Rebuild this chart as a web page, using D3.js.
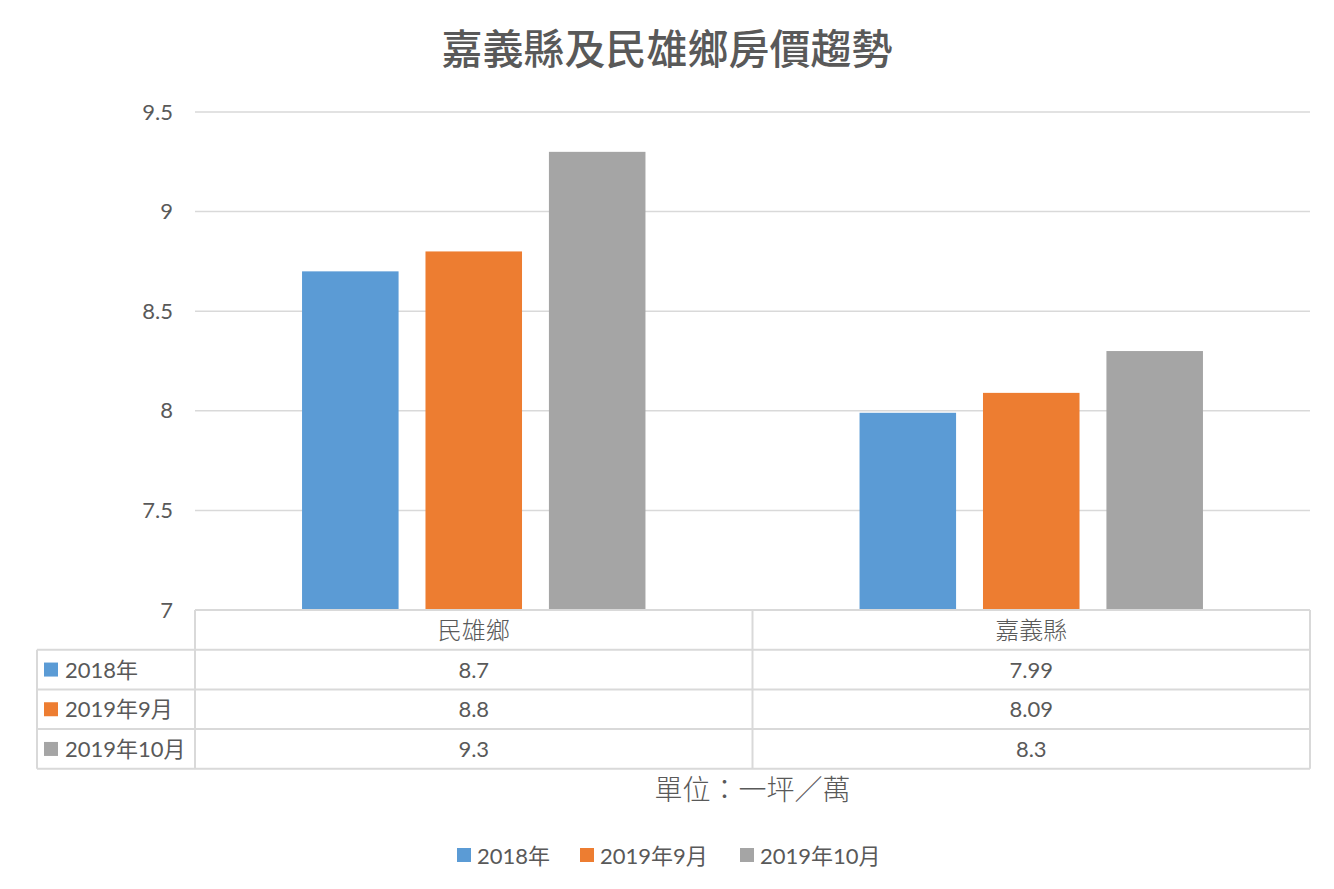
<!DOCTYPE html>
<html>
<head>
<meta charset="utf-8">
<script src="https://cdn.jsdelivr.net/npm/d3@7"></script>
<style>
  body { margin: 0; background: #fff; }
  text { font-family: "Lato", "Noto Sans CJK TC", sans-serif; fill: #595959; }
</style>
</head>
<body>
<script>
// data
var categories = ["民雄鄉", "嘉義縣"];
var series = ["2018年", "2019年9月", "2019年10月"];
var colors = ["#5B9BD5", "#ED7D31", "#A5A5A5"];
var values2018 = [8.7, 7.99];
var values2019Sep = [8.8, 8.09];
var values2019Oct = [9.3, 8.3];
var valueLabels = [["8.7", "7.99"], ["8.8", "8.09"], ["9.3", "8.3"]];
var yTicks = [7, 7.5, 8, 8.5, 9, 9.5];
var title = "嘉義縣及民雄鄉房價趨勢";
var unitNote = "單位：一坪／萬";

var allValues = [values2018, values2019Sep, values2019Oct];

var width = 1334, height = 889;
var margin = { left: 195, right: 24, top: 112 },
    plotBottom = 610,
    rowH = 39.7,
    tableLeft = 37;

var svg = d3.select("body").append("svg")
    .attr("width", width)
    .attr("height", height);

var x0 = d3.scaleBand()
    .domain(categories)
    .range([margin.left, width - margin.right]);

var x1 = d3.scaleBand()
    .domain(series)
    .range([x0.bandwidth() * 0.192, x0.bandwidth() * 0.808])
    .paddingInner(0.218);

var y = d3.scaleLinear()
    .domain([7, 9.5])
    .range([plotBottom, margin.top]);

// title
svg.append("text")
    .attr("x", width / 2)
    .attr("y", 64)
    .attr("text-anchor", "middle")
    .style("font-family", "'Noto Sans CJK TC', sans-serif")
    .style("font-weight", "500")
    .style("font-size", "41px")
    .text(title);

// gridlines
svg.append("g")
    .selectAll("line")
    .data(yTicks)
    .enter().append("line")
    .attr("x1", margin.left)
    .attr("x2", width - margin.right)
    .attr("y1", function(d) { return y(d); })
    .attr("y2", function(d) { return y(d); })
    .attr("stroke", "#d9d9d9")
    .attr("stroke-width", 1.5);

// y axis labels
var yAxis = svg.append("g")
    .attr("transform", "translate(" + (margin.left - 10) + ",0)")
    .call(d3.axisLeft(y).tickValues(yTicks).tickSize(0).tickPadding(12)
        .tickFormat(function(d) { return String(d); }));
yAxis.select(".domain").remove();
yAxis.selectAll("text")
    .style("font-size", "22px")
    .attr("fill", "#595959");

// bars
var groups = svg.append("g")
    .selectAll("g")
    .data(categories)
    .enter().append("g")
    .attr("transform", function(d) { return "translate(" + x0(d) + ",0)"; });

groups.selectAll("rect")
    .data(function(d, ci) {
        return series.map(function(s, si) { return { s: s, si: si, v: allValues[si][ci] }; });
    })
    .enter().append("rect")
    .attr("x", function(d) { return x1(d.s); })
    .attr("width", x1.bandwidth())
    .attr("y", function(d) { return y(d.v); })
    .attr("height", function(d) { return y(7) - y(d.v); })
    .attr("fill", function(d) { return colors[d.si]; });

// data table
var table = svg.append("g");
var lineColor = "#d9d9d9";
var tableBottom = plotBottom + rowH * 4;

// horizontal lines
table.append("line")
    .attr("x1", margin.left).attr("x2", width - margin.right)
    .attr("y1", plotBottom).attr("y2", plotBottom)
    .attr("stroke", lineColor).attr("stroke-width", 2);
[1, 2, 3, 4].forEach(function(i) {
    table.append("line")
        .attr("x1", tableLeft).attr("x2", width - margin.right)
        .attr("y1", plotBottom + rowH * i).attr("y2", plotBottom + rowH * i)
        .attr("stroke", lineColor).attr("stroke-width", 2);
});
// vertical lines
table.append("line")
    .attr("x1", tableLeft).attr("x2", tableLeft)
    .attr("y1", plotBottom + rowH).attr("y2", tableBottom)
    .attr("stroke", lineColor).attr("stroke-width", 2);
var vx = categories.map(function(c) { return x0(c); }).concat([x0.range()[1]]);
vx.forEach(function(xv) {
    table.append("line")
        .attr("x1", xv).attr("x2", xv)
        .attr("y1", plotBottom).attr("y2", tableBottom)
        .attr("stroke", lineColor).attr("stroke-width", 2);
});

// header row
table.selectAll(".cat")
    .data(categories)
    .enter().append("text")
    .attr("class", "cat")
    .attr("x", function(d) { return x0(d) + x0.bandwidth() / 2; })
    .attr("y", plotBottom + rowH / 2 + 9)
    .attr("text-anchor", "middle")
    .style("font-family", "'Noto Sans CJK TC', sans-serif")
    .style("font-weight", "300")
    .style("font-size", "24px")
    .text(function(d) { return d; });

// series rows
series.forEach(function(s, si) {
    var rowY = plotBottom + rowH * (si + 1);
    table.append("rect")
        .attr("x", tableLeft + 7)
        .attr("y", rowY + rowH / 2 - 7)
        .attr("width", 14).attr("height", 14)
        .attr("fill", colors[si]);
    table.append("text")
        .attr("x", tableLeft + 28)
        .attr("y", rowY + rowH / 2 + 8)
        .style("font-size", "22px")
        .text(s);
    categories.forEach(function(c, ci) {
        table.append("text")
            .attr("x", x0(c) + x0.bandwidth() / 2)
            .attr("y", rowY + rowH / 2 + 8)
            .attr("text-anchor", "middle")
            .style("font-size", "22px")
            .text(valueLabels[si][ci]);
    });
});

// unit note
svg.append("text")
    .attr("x", x0.range()[0] + (x0.range()[1] - x0.range()[0]) / 2)
    .attr("y", 800)
    .attr("text-anchor", "middle")
    .style("font-family", "'Noto Sans CJK TC', sans-serif")
    .style("font-weight", "300")
    .style("font-size", "28px")
    .text(unitNote);

// legend
var legendX = [457, 580, 740];
var legend = svg.append("g");
series.forEach(function(s, si) {
    legend.append("rect")
        .attr("x", legendX[si])
        .attr("y", 848)
        .attr("width", 14).attr("height", 14)
        .attr("fill", colors[si]);
    legend.append("text")
        .attr("x", legendX[si] + 20)
        .attr("y", 864)
        .style("font-size", "22px")
        .text(s);
});
</script>
</body>
</html>
